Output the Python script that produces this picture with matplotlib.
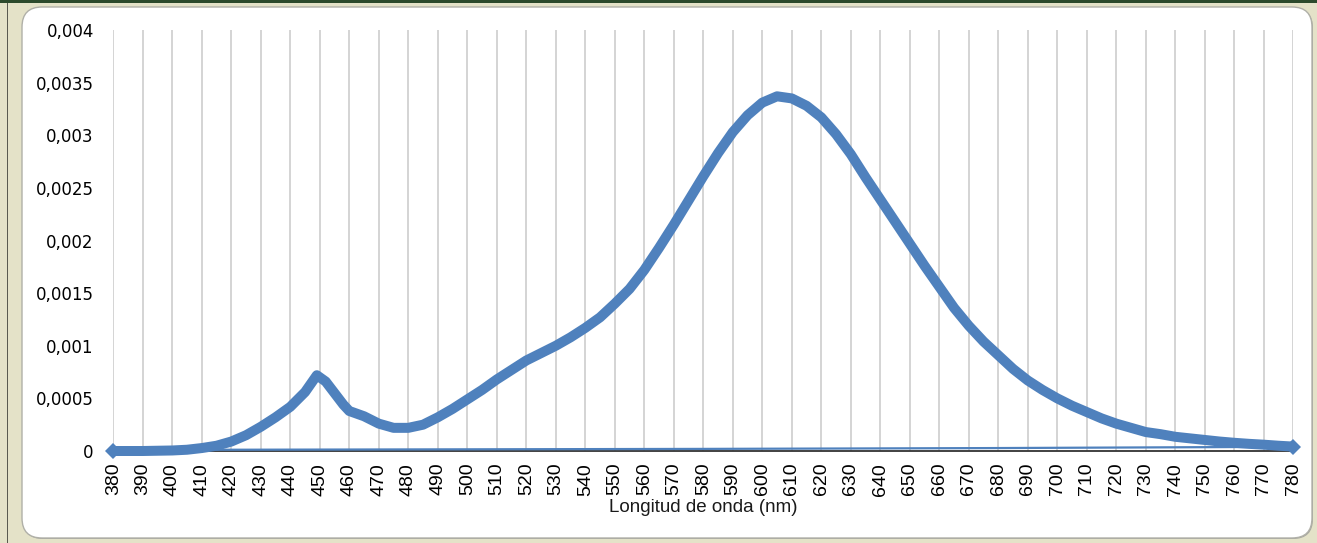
import matplotlib
matplotlib.use("Agg")
import matplotlib.pyplot as plt
from matplotlib.patches import FancyBboxPatch, Rectangle

# ---------------- data ----------------
wavelengths = [380, 390, 400, 405, 410, 415, 420, 425, 430, 435, 440, 445, 449,
               452, 455, 458, 460, 465, 470, 475, 480, 485, 490, 495, 500, 505,
               510, 515, 520, 525, 530, 535, 540, 545, 550, 555, 560, 565, 570,
               575, 580, 585, 590, 595, 600, 605, 610, 615, 620, 625, 630, 635,
               640, 645, 650, 655, 660, 665, 670, 675, 680, 685, 690, 695, 700,
               705, 710, 715, 720, 725, 730, 735, 740, 745, 750, 755, 760, 765,
               770, 775, 780]
spectrum = [0.0, 0.0, 0.000005, 0.000012, 0.000028, 0.00005, 0.00009, 0.00015,
            0.00023, 0.00032, 0.00042, 0.00056, 0.00072, 0.00066, 0.00055,
            0.00044, 0.00038, 0.00033, 0.00026, 0.00022, 0.00022, 0.00025,
            0.00032, 0.00040, 0.00049, 0.00058, 0.00068, 0.00077, 0.00086,
            0.00093, 0.00100, 0.00108, 0.00117, 0.00127, 0.00140, 0.00154,
            0.00172, 0.00193, 0.00215, 0.00238, 0.00261, 0.00283, 0.00303,
            0.00319, 0.00331, 0.00337, 0.00335, 0.00328, 0.00317, 0.00301,
            0.00282, 0.00260, 0.00239, 0.00218, 0.00197, 0.00176, 0.00156,
            0.00136, 0.00119, 0.00104, 0.00091, 0.00078, 0.00067, 0.00058,
            0.00050, 0.00043, 0.00037, 0.00031, 0.00026, 0.00022, 0.00018,
            0.00016, 0.000135, 0.00012, 0.000105, 0.00009, 0.000078, 0.000068,
            0.00006, 0.00005, 0.000042]

baseline_wl = [380, 480, 580, 680, 780]
baseline_vals = [0.00001, 0.000015, 0.00002, 0.000028, 0.00004]

x_ticks = list(range(380, 781, 10))
y_ticks = [0, 0.0005, 0.001, 0.0015, 0.002, 0.0025, 0.003, 0.0035, 0.004]
y_tick_labels = ["0", "0,0005", "0,001", "0,0015", "0,002", "0,0025",
                 "0,003", "0,0035", "0,004"]
x_title = "Longitud de onda (nm)"

# ---------------- figure ----------------
W, H = 1317, 543
fig = plt.figure(figsize=(W / 100, H / 100), dpi=100)
fig.patch.set_facecolor("#e4e2c8")

# background decoration axes (pixel coordinates)
bg = fig.add_axes([0, 0, 1, 1])
bg.set_xlim(0, W)
bg.set_ylim(H, 0)
bg.axis("off")
bg.add_patch(Rectangle((0, 0), W, 3, color="#2c4a2c", lw=0))
bg.add_patch(Rectangle((7, 3), 1.2, H, color="#5a5a50", lw=0))
bg.add_patch(FancyBboxPatch((23, 8), 1290, 531,
                            boxstyle="round,pad=0,rounding_size=20",
                            facecolor="#a8a8a0", edgecolor="none"))
bg.add_patch(FancyBboxPatch((22, 7), 1290, 531,
                            boxstyle="round,pad=0,rounding_size=20",
                            facecolor="white", edgecolor="#b0b0a8", lw=1.0))

# main axes
x0, x1 = 113.3, 1293.3
y0, y1 = 451, 30
ax = fig.add_axes([x0 / W, 1 - y0 / H, (x1 - x0) / W, (y0 - y1) / H])
ax.set_facecolor("none")
ax.set_xlim(380, 780)
ax.set_ylim(0, 0.004)

ax.set_xticks(x_ticks)
ax.set_xticklabels([str(v) for v in x_ticks], rotation=90,
                   fontsize=14, family="Liberation Sans")
ax.set_yticks(y_ticks)
ax.set_yticklabels(y_tick_labels, fontsize=12, family="DejaVu Sans")
ax.tick_params(axis="x", length=0, pad=8.5, colors="black")
ax.tick_params(axis="y", length=0, pad=14, colors="black")

ax.grid(axis="x", color="#d4d4d4", lw=1.4)
ax.grid(axis="y", visible=False)
ax.set_axisbelow(True)
for s in ["left", "right", "top"]:
    ax.spines[s].set_visible(False)
ax.spines["bottom"].set_color("#333333")
ax.spines["bottom"].set_linewidth(1.3)

ax.plot(baseline_wl, baseline_vals, color="#4f81bd", lw=1.6, zorder=3,
        clip_on=False)
ax.plot(wavelengths, spectrum, color="#4f81bd", lw=7.2, zorder=4,
        solid_joinstyle="round", solid_capstyle="butt",
        marker="D", markevery=[0, len(wavelengths) - 1], markersize=8.5,
        markeredgewidth=0, clip_on=False)

fig.text(703 / W, 1 - 511.5 / H, x_title, ha="center", va="baseline",
         fontsize=13.5, family="Liberation Sans", color="#1a1a1a")

fig.savefig("out.png", dpi=100, facecolor=fig.get_facecolor())
